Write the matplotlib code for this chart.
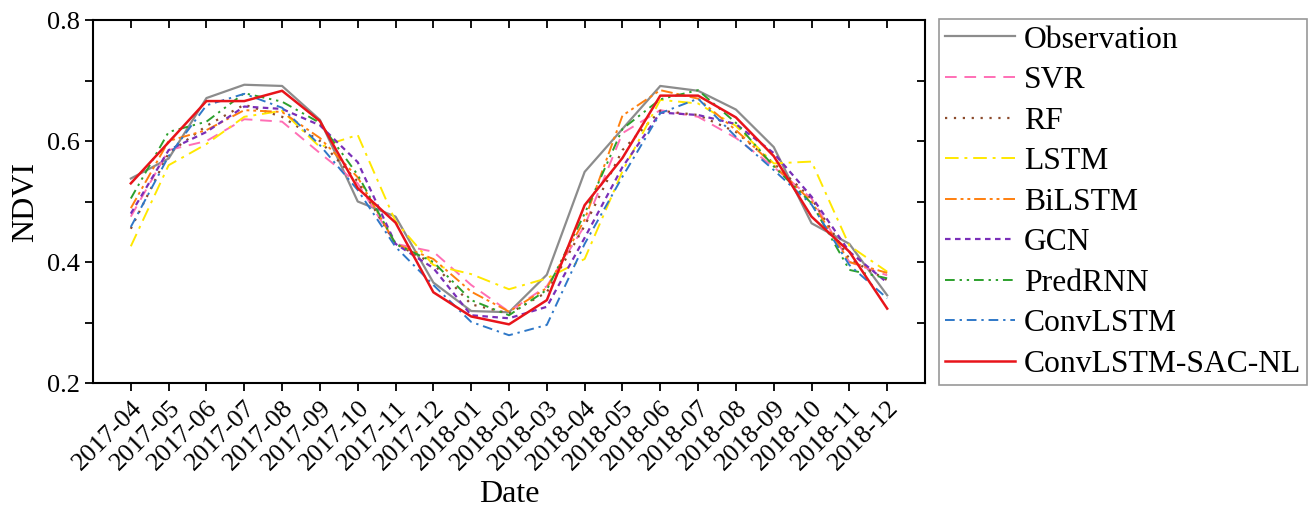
import numpy as np
import matplotlib.pyplot as plt
from matplotlib.ticker import MultipleLocator

plt.rcParams['font.family'] = ['Liberation Serif', 'DejaVu Serif']

dates = ['2017-04', '2017-05', '2017-06', '2017-07', '2017-08', '2017-09', '2017-10',
         '2017-11', '2017-12', '2018-01', '2018-02', '2018-03', '2018-04', '2018-05',
         '2018-06', '2018-07', '2018-08', '2018-09', '2018-10', '2018-11', '2018-12']

observation = [0.538, 0.571, 0.671, 0.693, 0.691, 0.635, 0.500, 0.475, 0.366, 0.319, 0.317,
               0.379, 0.549, 0.620, 0.691, 0.683, 0.652, 0.590, 0.464, 0.430, 0.345]
svr = [0.475, 0.585, 0.600, 0.636, 0.632, 0.580, 0.530, 0.430, 0.417, 0.362, 0.318,
       0.360, 0.460, 0.613, 0.651, 0.640, 0.605, 0.557, 0.505, 0.400, 0.378]
rf = [0.455, 0.580, 0.625, 0.660, 0.640, 0.600, 0.533, 0.430, 0.397, 0.330, 0.315,
      0.350, 0.460, 0.585, 0.650, 0.643, 0.615, 0.563, 0.505, 0.405, 0.370]
lstm = [0.426, 0.560, 0.595, 0.640, 0.650, 0.590, 0.610, 0.467, 0.395, 0.380, 0.355,
        0.373, 0.405, 0.550, 0.668, 0.662, 0.625, 0.563, 0.566, 0.427, 0.384]
bilstm = [0.489, 0.600, 0.618, 0.651, 0.648, 0.605, 0.540, 0.430, 0.405, 0.351, 0.318,
          0.357, 0.470, 0.642, 0.684, 0.670, 0.618, 0.560, 0.500, 0.400, 0.382]
gcn = [0.480, 0.585, 0.615, 0.657, 0.653, 0.626, 0.565, 0.430, 0.390, 0.312, 0.307,
       0.326, 0.440, 0.557, 0.647, 0.643, 0.628, 0.580, 0.508, 0.417, 0.366]
predrnn = [0.505, 0.615, 0.632, 0.679, 0.665, 0.630, 0.544, 0.430, 0.400, 0.337, 0.312,
           0.354, 0.480, 0.620, 0.669, 0.684, 0.630, 0.558, 0.497, 0.387, 0.373]
convlstm = [0.458, 0.575, 0.659, 0.678, 0.655, 0.593, 0.519, 0.425, 0.362, 0.301, 0.279,
            0.296, 0.430, 0.541, 0.646, 0.670, 0.607, 0.552, 0.495, 0.395, 0.340]
sacnl = [0.530, 0.598, 0.666, 0.666, 0.683, 0.633, 0.522, 0.465, 0.350, 0.310, 0.297,
         0.337, 0.494, 0.572, 0.675, 0.675, 0.639, 0.575, 0.475, 0.417, 0.323]

x = np.arange(len(dates))

fig = plt.figure(figsize=(13.08, 5.09), dpi=100)
ax = fig.add_axes([0.0711, 0.2475, 0.6361, 0.7132])

ax.plot(x, observation, color='#8c8c8c', lw=1.6, label='Observation')
ax.plot(x, svr, color='#ff6fb5', lw=1.4, dashes=(6, 4), label='SVR')
ax.plot(x, rf, color='#8b4a2b', lw=1.6, dashes=(1, 3), label='RF')
ax.plot(x, lstm, color='#ffe800', lw=1.4, dashes=(7, 3, 1.5, 3), label='LSTM')
ax.plot(x, bilstm, color='#ff7f0e', lw=1.4, dashes=(6, 2, 1.5, 2, 1.5, 2), label='BiLSTM')
ax.plot(x, gcn, color='#7a2fb8', lw=1.6, dashes=(2.5, 2), label='GCN')
ax.plot(x, predrnn, color='#2ca02c', lw=1.4, dashes=(5, 2.5, 1.2, 2.5, 1.2, 2.5), label='PredRNN')
ax.plot(x, convlstm, color='#2f78c8', lw=1.4, dashes=(5, 2.5, 1.2, 2.5), label='ConvLSTM')
ax.plot(x, sacnl, color='#e8141a', lw=1.8, label='ConvLSTM-SAC-NL')

ax.set_xlim(-1, 21)
ax.set_ylim(0.2, 0.8)
ax.set_xticks(x)
ax.set_xticklabels(dates, rotation=45, ha='right', rotation_mode='anchor')
ax.yaxis.set_minor_locator(MultipleLocator(0.1))
ax.set_yticks([0.2, 0.4, 0.6, 0.8])
ax.set_yticklabels(['0.2', '0.4', '0.6', '0.8'])

ax.tick_params(axis='both', which='both', labelsize=19, width=1.3, length=6)
ax.tick_params(axis='x', which='both', direction='out', top=True)
ax.tick_params(axis='y', which='both', direction='out', right=True)
ax.tick_params(axis='x', pad=4)

for sp in ax.spines.values():
    sp.set_linewidth(1.5)

ax.set_xlabel('Date', fontsize=23, labelpad=4)
ax.set_ylabel('NDVI', fontsize=23, labelpad=5)

# ticks on top/right point inward
for t in ax.xaxis.get_major_ticks():
    t.tick2line.set_marker(3)
for t in ax.yaxis.get_major_ticks() + ax.yaxis.get_minor_ticks():
    t.tick2line.set_marker(0)

leg = fig.legend(loc='upper left', bbox_to_anchor=(939 / 1308, 1 - 19 / 509),
                 fontsize=22.8, frameon=True, fancybox=False, edgecolor='#7f7f7f',
                 handlelength=2.2, handletextpad=0.28, labelspacing=0.36,
                 borderpad=0.2, borderaxespad=0)
leg.get_frame().set_linewidth(1.2)

fig.savefig('out.png', dpi=100)
